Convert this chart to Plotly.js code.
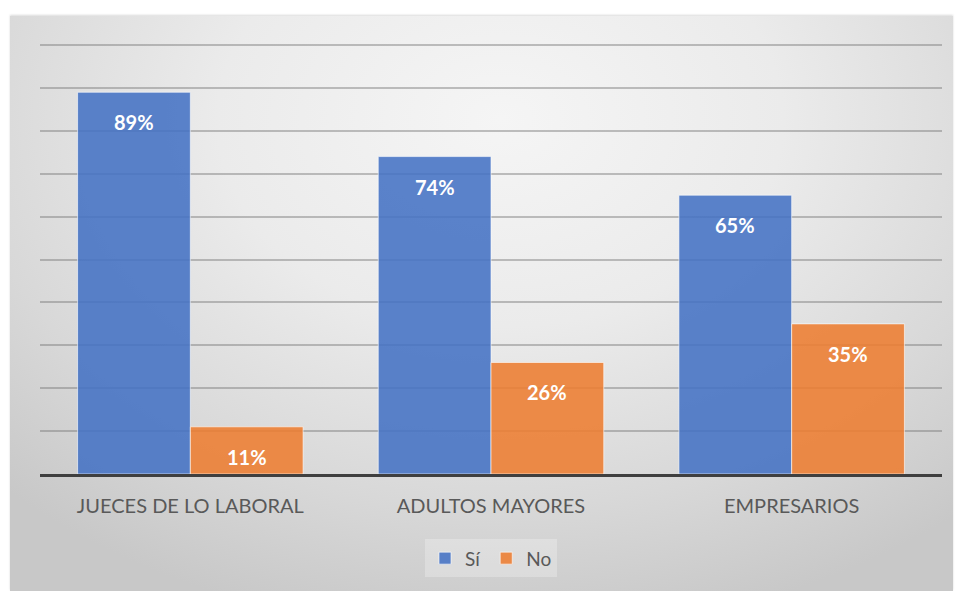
<!DOCTYPE html>
<html>
<head>
<meta charset="utf-8">
<script src="https://cdn.plot.ly/plotly-3.0.1.min.js"></script>
<style>
html,body{margin:0;padding:0;background:#ffffff;}
#wrap{position:absolute;left:10px;top:16px;width:943px;height:575px;
 background:radial-gradient(ellipse 75% 90% at 52% 18%, #f5f5f5 0%, #ebebeb 40%, #d8d8d8 75%, #c8c8c8 100%);
 box-shadow:0 -1px 2px rgba(0,0,0,0.15);}
#chart{position:absolute;left:0;top:0;width:959px;height:591px;}
</style>
</head>
<body>
<div id="wrap"></div>
<div id="chart"></div>
<script>
const categories = ["JUECES DE LO LABORAL", "ADULTOS MAYORES", "EMPRESARIOS"];
const seriesNames = ["Sí", "No"];
const siValues = [89, 74, 65];
const noValues = [11, 26, 35];

const BARGAP = 0.25;
const font = "Lato, 'Open Sans', sans-serif";

const traces = [
  {type:'bar', name:seriesNames[0], x:categories, y:siValues,
   marker:{color:'rgba(68,114,196,0.88)', line:{color:'rgba(255,255,255,0.6)', width:1}},
   hoverinfo:'none'},
  {type:'bar', name:seriesNames[1], x:categories, y:noValues,
   marker:{color:'rgba(237,125,49,0.88)', line:{color:'rgba(255,255,255,0.6)', width:1}},
   hoverinfo:'none'}
];

const half = (1 - BARGAP) / 4;
const annotations = [];
[siValues, noValues].forEach((vals, s) => {
  vals.forEach((v, i) => {
    annotations.push({
      x: i + (s === 0 ? -half : half), y: v, xref:'x', yref:'y',
      text: '<b>' + v + '%</b>', showarrow:false, yanchor:'top', yshift:-16,
      font:{family:font, size:20, color:'#ffffff'}
    });
  });
});

const layout = {
  width:959, height:591,
  margin:{l:40, r:17, t:44, b:117},
  paper_bgcolor:'rgba(0,0,0,0)', plot_bgcolor:'rgba(0,0,0,0)',
  barmode:'group', bargap:BARGAP, bargroupgap:0,
  showlegend:true,
  legend:{orientation:'h', x:0.5, xanchor:'center', y:-0.196, yanchor:'middle',
    bgcolor:'rgba(255,255,255,0.25)', font:{family:font, size:19, color:'#595959'},
    itemwidth:30, tracegroupgap:0},
  xaxis:{type:'category', showline:true, linecolor:'#3f3f3f', linewidth:3,
    ticks:'', ticklabelstandoff:12, tickfont:{family:font, size:20, color:'#595959'}, showgrid:false},
  yaxis:{range:[0,100.25], dtick:10, showticklabels:false, ticks:'', zeroline:false,
    showgrid:true, gridcolor:'rgba(120,120,120,0.45)', gridwidth:2, showline:false},
  annotations:annotations,
  font:{family:font}
};

Plotly.newPlot('chart', traces, layout, {displayModeBar:false, staticPlot:true});
</script>
</body>
</html>
